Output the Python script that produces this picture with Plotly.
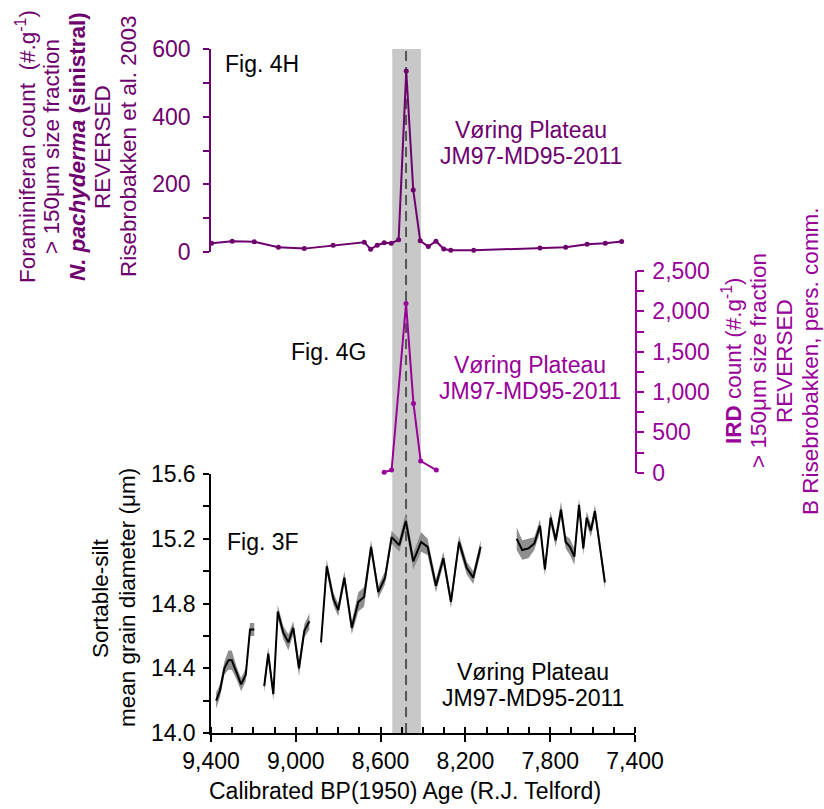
import plotly.graph_objects as go

# ---------------- data ----------------
# Fig. 4H: N. pachyderma (sinistral) count, Risebrobakken et al. 2003
pach_age = [9397, 9300, 9196, 9082, 8960, 8824, 8677, 8647, 8616, 8583, 8550, 8515,
            8479, 8446, 8413, 8375, 8339, 8302, 8269, 8161, 7848, 7727, 7626, 7540, 7463]
pach_val = [26, 32, 30, 14, 10, 20, 29, 8, 20, 27, 26, 36,
            535, 183, 33, 16, 32, 9, 5, 5, 12, 14, 23, 26, 31]

# Fig. 4G: IRD count
ird_age = [8583, 8548, 8480, 8445, 8411, 8337]
ird_val = [5, 33, 2096, 859, 145, 33]

# Fig. 3F: sortable-silt mean grain diameter, four segments
silt_seg1_age = [9376, 9358, 9337, 9318, 9302, 9279, 9258, 9236, 9216, 9196]
silt_seg1_val = [14.20, 14.26, 14.40, 14.45, 14.45, 14.37, 14.30, 14.36, 14.64, 14.64]
silt_seg1_err = [0.05, 0.04, 0.04, 0.06, 0.06, 0.04, 0.04, 0.04, 0.04, 0.04]

silt_seg2_age = [9149, 9130, 9106, 9085, 9059, 9035, 9012, 8985, 8960, 8936]
silt_seg2_val = [14.29, 14.49, 14.24, 14.75, 14.62, 14.56, 14.65, 14.40, 14.63, 14.69]
silt_seg2_err = [0.04, 0.04, 0.04, 0.04, 0.04, 0.05, 0.04, 0.05, 0.04, 0.05]

silt_seg3_age = [8881, 8854, 8823, 8800, 8771, 8736, 8705, 8678, 8645, 8611, 8579, 8548,
                 8512, 8481, 8446, 8409, 8378, 8339, 8304, 8268, 8230, 8194, 8163, 8128]
silt_seg3_val = [14.56, 15.03, 14.83, 14.76, 14.96, 14.65, 14.81, 14.84, 15.15, 14.87, 14.96, 15.21,
                 15.16, 15.31, 15.06, 15.18, 15.15, 14.91, 15.08, 14.81, 15.18, 15.02, 14.96, 15.15]
silt_seg3_err = [0.04, 0.04, 0.04, 0.04, 0.04, 0.04, 0.06, 0.06, 0.04, 0.04, 0.04, 0.04,
                 0.04, 0.05, 0.05, 0.06, 0.05, 0.04, 0.04, 0.04, 0.04, 0.04, 0.04, 0.04]

silt_seg4_age = [7958, 7932, 7903, 7875, 7848, 7825, 7798, 7774, 7749, 7727, 7707, 7686,
                 7664, 7644, 7628, 7608, 7589, 7565, 7542]
silt_seg4_val = [15.20, 15.13, 15.14, 15.17, 15.28, 15.01, 15.33, 15.19, 15.38, 15.18, 15.15, 15.09,
                 15.41, 15.14, 15.33, 15.25, 15.37, 15.15, 14.93]
silt_seg4_err = [0.07, 0.06, 0.06, 0.04, 0.04, 0.04, 0.04, 0.04, 0.05, 0.04, 0.05, 0.05,
                 0.04, 0.04, 0.04, 0.04, 0.04, 0.04, 0.04]

event_band = [8545, 8410]
event_line = 8480

x_ticks = [9400, 9000, 8600, 8200, 7800, 7400]

# ---------------- styles ----------------
FONT = "Liberation Sans, Arial, sans-serif"
FS = 23
PURPLE = "#6e006e"
MAGENTA = "#990099"

# plot area in pixels for annotation placement
L, R, T, B = 211, 635, 49, 733


def px(x):
    return (x - L) / (R - L)


def py(y):
    return (B - y) / (B - T)


fig = go.Figure()

segments = [
    (silt_seg1_age, silt_seg1_val, silt_seg1_err),
    (silt_seg2_age, silt_seg2_val, silt_seg2_err),
    (silt_seg3_age, silt_seg3_val, silt_seg3_err),
    (silt_seg4_age, silt_seg4_val, silt_seg4_err),
]
for ages, vals, errs in segments:
    upper = [v + e for v, e in zip(vals, errs)]
    lower = [v - e for v, e in zip(vals, errs)]
    fig.add_trace(go.Scatter(
        x=list(ages) + list(ages)[::-1], y=upper + lower[::-1],
        fill="toself", fillcolor="#8f8f8f", line=dict(width=0),
        mode="lines", hoverinfo="skip", yaxis="y"))
for ages, vals, errs in segments:
    fig.add_trace(go.Scatter(
        x=ages, y=vals, mode="lines", line=dict(color="black", width=2),
        yaxis="y"))

fig.add_trace(go.Scatter(
    x=ird_age, y=ird_val, mode="lines+markers",
    line=dict(color=MAGENTA, width=2), marker=dict(size=5, color=MAGENTA),
    yaxis="y2", cliponaxis=False))

fig.add_trace(go.Scatter(
    x=pach_age, y=pach_val, mode="lines+markers",
    line=dict(color=PURPLE, width=2), marker=dict(size=5, color=PURPLE),
    yaxis="y3", cliponaxis=False))

fig.add_shape(type="rect", xref="x", yref="paper", x0=event_band[0], x1=event_band[1],
              y0=0, y1=1, fillcolor="#c8c8c8", line=dict(width=0), layer="below")
fig.add_shape(type="line", xref="x", yref="paper", x0=event_line, x1=event_line,
              y0=0, y1=1, line=dict(color="#555555", width=2, dash="10px,6px"), layer="below")

axis_common = dict(showgrid=False, zeroline=False, showline=True, linewidth=1.5,
                   tickfont=dict(size=FS, family=FONT))

fig.update_layout(
    width=824, height=809,
    margin=dict(l=L, r=824 - R, t=T, b=809 - B),
    plot_bgcolor="white", paper_bgcolor="white",
    showlegend=False,
    font=dict(family=FONT, size=FS, color="black"),
    xaxis=dict(
        range=[9400, 7400], tickmode="array", tickvals=x_ticks, tickformat=",d",
        ticks="outside", ticklen=7, tickwidth=1.5, tickcolor="black",
        minor=dict(tickmode="linear", tick0=7400, dtick=100, ticks="inside",
                   ticklen=6, tickwidth=1.5, tickcolor="black"),
        linecolor="black",
        **axis_common),
    yaxis=dict(
        domain=[0, py(474)], range=[14.0, 15.6], anchor="x",
        tickmode="linear", tick0=14.0, dtick=0.4, tickformat=".1f",
        ticks="outside", ticklen=6, tickwidth=1.5, tickcolor="black",
        minor=dict(tickmode="linear", tick0=14.0, dtick=0.2, ticks="outside",
                   ticklen=6, tickwidth=1.5, tickcolor="black"),
        linecolor="black", ticklabelstandoff=3,
        **axis_common),
    yaxis2=dict(
        domain=[py(472.7), py(271)], range=[0, 2500], anchor="x", side="right",
        tickmode="linear", tick0=0, dtick=500, tickformat=",d",
        ticks="outside", ticklen=7, tickwidth=1.5, tickcolor=MAGENTA,
        minor=dict(tickmode="linear", tick0=0, dtick=250, ticks="outside",
                   ticklen=7, tickwidth=1.5, tickcolor=MAGENTA),
        linecolor=MAGENTA, color=MAGENTA, ticklabelstandoff=4,
        **axis_common),
    yaxis3=dict(
        domain=[py(252), 1.0], range=[0, 600], anchor="x",
        tickmode="linear", tick0=0, dtick=200,
        ticks="outside", ticklen=6, tickwidth=1.5, tickcolor=PURPLE,
        minor=dict(tickmode="linear", tick0=0, dtick=100, ticks="outside",
                   ticklen=6, tickwidth=1.5, tickcolor=PURPLE),
        linecolor=PURPLE, color=PURPLE, ticklabelstandoff=8,
        **axis_common),
)

# horizontal text labels: (text, x_px, y_px, colour)
labels = [
    ("Fig. 4H", 262, 64, "black"),
    ("Fig. 4G", 328, 352, "black"),
    ("Fig. 3F", 263, 542, "black"),
    ("Vøring Plateau", 531, 130, PURPLE),
    ("JM97-MD95-2011", 531, 156, PURPLE),
    ("Vøring Plateau", 530, 365, MAGENTA),
    ("JM97-MD95-2011", 530, 391, MAGENTA),
    ("Vøring Plateau", 533, 672, "black"),
    ("JM97-MD95-2011", 533, 698, "black"),
    ("Calibrated BP(1950) Age (R.J. Telford)", 405, 791, "black"),
]
for text, xp, yp, col in labels:
    fig.add_annotation(text=text, x=px(xp), y=py(yp), xref="paper", yref="paper",
                       showarrow=False, xanchor="center", yanchor="middle", align="center",
                       font=dict(size=FS, family=FONT, color=col))

# rotated axis-title lines: (text, x_px, y_px, colour)
title_lines = [
    ("Foraminiferan count  (#.g<sup>-1</sup>)", 26, 147, PURPLE),
    ("> 150μm size fraction", 52, 147, PURPLE),
    ("<b><i>N. pachyderma</i> (sinistral)</b>", 78, 147, PURPLE),
    ("REVERSED", 103, 147, PURPLE),
    ("Risebrobakken et al. 2003", 129, 147, PURPLE),
    ("<b>IRD</b> count (#.g<sup>-1</sup>)", 732, 361, MAGENTA),
    ("> 150μm size fraction", 758, 361, MAGENTA),
    ("REVERSED", 784, 361, MAGENTA),
    ("B Risebrobakken, pers. comm.", 810, 361, MAGENTA),
    ("Sortable-silt", 100, 598, "black"),
    ("mean grain diameter (μm)", 127, 598, "black"),
]
for text, xp, yp, col in title_lines:
    fig.add_annotation(text=text, x=px(xp), y=py(yp), xref="paper", yref="paper",
                       showarrow=False, xanchor="center", yanchor="middle", align="center",
                       textangle=-90, font=dict(size=22.5, family=FONT, color=col))

fig.write_html("out.html", config={"displayModeBar": False},
               post_script="document.body.style.margin='0';document.body.style.padding='0';")
